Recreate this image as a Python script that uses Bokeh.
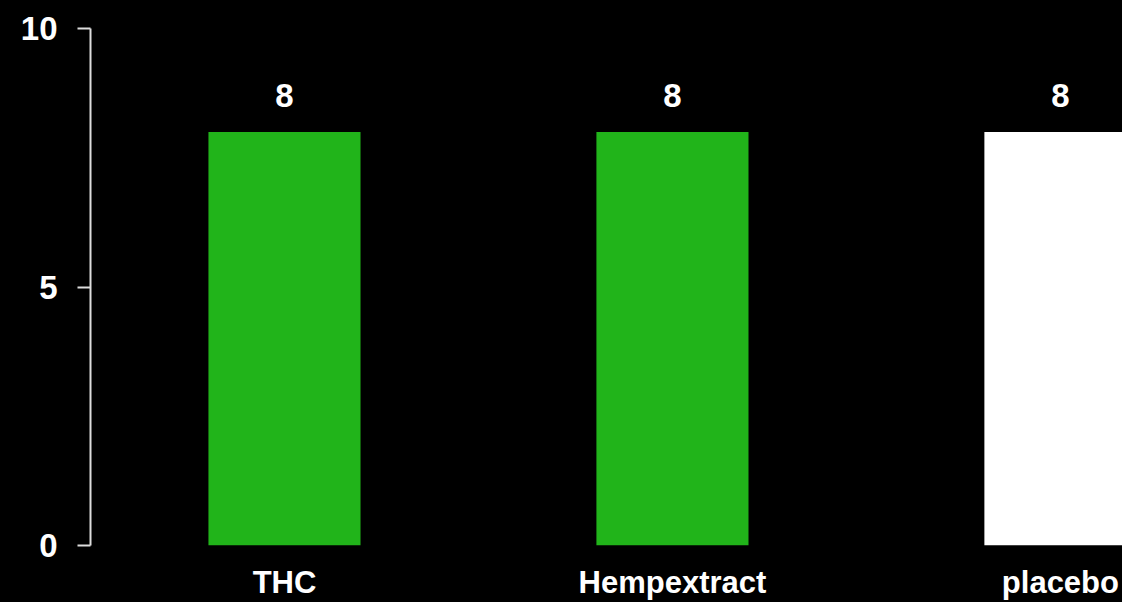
from bokeh.plotting import figure
from bokeh.models import Range1d, FixedTicker, ColumnDataSource, LabelSet
from bokeh.core.properties import value
from bokeh.embed import file_html
from bokeh.resources import INLINE

categories = ["THC", "Hempextract", "placebo"]
values = [8, 8, 8]
colors = ["#21B41A", "#21B41A", "#FFFFFF"]
y_ticks = [0, 5, 10]

xs = list(range(len(categories)))
src = ColumnDataSource(dict(x=xs, top=values, color=colors, label=[str(v) for v in values]))

p = figure(width=1122, height=602, output_backend="svg", toolbar_location=None,
           x_range=Range1d(-0.5, 2.16), y_range=Range1d(0, 10),
           background_fill_color="black", border_fill_color="black",
           min_border_left=90, min_border_right=0, min_border_top=28, min_border_bottom=55)
p.styles = {"background-color": "black"}
p.outline_line_color = None
p.grid.visible = False

p.vbar(x="x", top="top", bottom=0, width=0.392, color="color", line_color=None, source=src)

labels = LabelSet(x="x", y="top", text="label", source=src, text_align="center",
                  text_baseline="alphabetic", y_offset=25, text_color="white",
                  text_font=value("Liberation Sans"), text_font_style="bold", text_font_size="33px")
p.add_layout(labels)

# y axis
p.yaxis.ticker = FixedTicker(ticks=y_ticks)
p.yaxis.minor_tick_line_color = None
p.yaxis.major_tick_in = 0
p.yaxis.major_tick_out = 13
p.yaxis.major_tick_line_color = "#dddddd"
p.yaxis.major_tick_line_width = 2
p.yaxis.axis_line_color = "#dddddd"
p.yaxis.axis_line_width = 2
p.yaxis.major_label_standoff = 20
p.yaxis.major_label_text_color = "white"
p.yaxis.major_label_text_font = "Liberation Sans"
p.yaxis.major_label_text_font_style = "bold"
p.yaxis.major_label_text_font_size = "33px"

# x axis
p.xaxis.ticker = FixedTicker(ticks=xs)
p.xaxis.major_label_overrides = {i: c for i, c in enumerate(categories)}
p.xaxis.minor_tick_line_color = None
p.xaxis.major_tick_in = 0
p.xaxis.major_tick_out = 0
p.xaxis.major_tick_line_color = None
p.xaxis.axis_line_color = None
p.xaxis.major_label_standoff = 19
p.xaxis.major_label_text_color = "white"
p.xaxis.major_label_text_font = "Liberation Sans"
p.xaxis.major_label_text_font_style = "bold"
p.xaxis.major_label_text_font_size = "31px"

html = file_html(p, INLINE)
html = html.replace("<body>", '<body style="background:black;margin:0">', 1)
open("out.html", "w").write(html)
